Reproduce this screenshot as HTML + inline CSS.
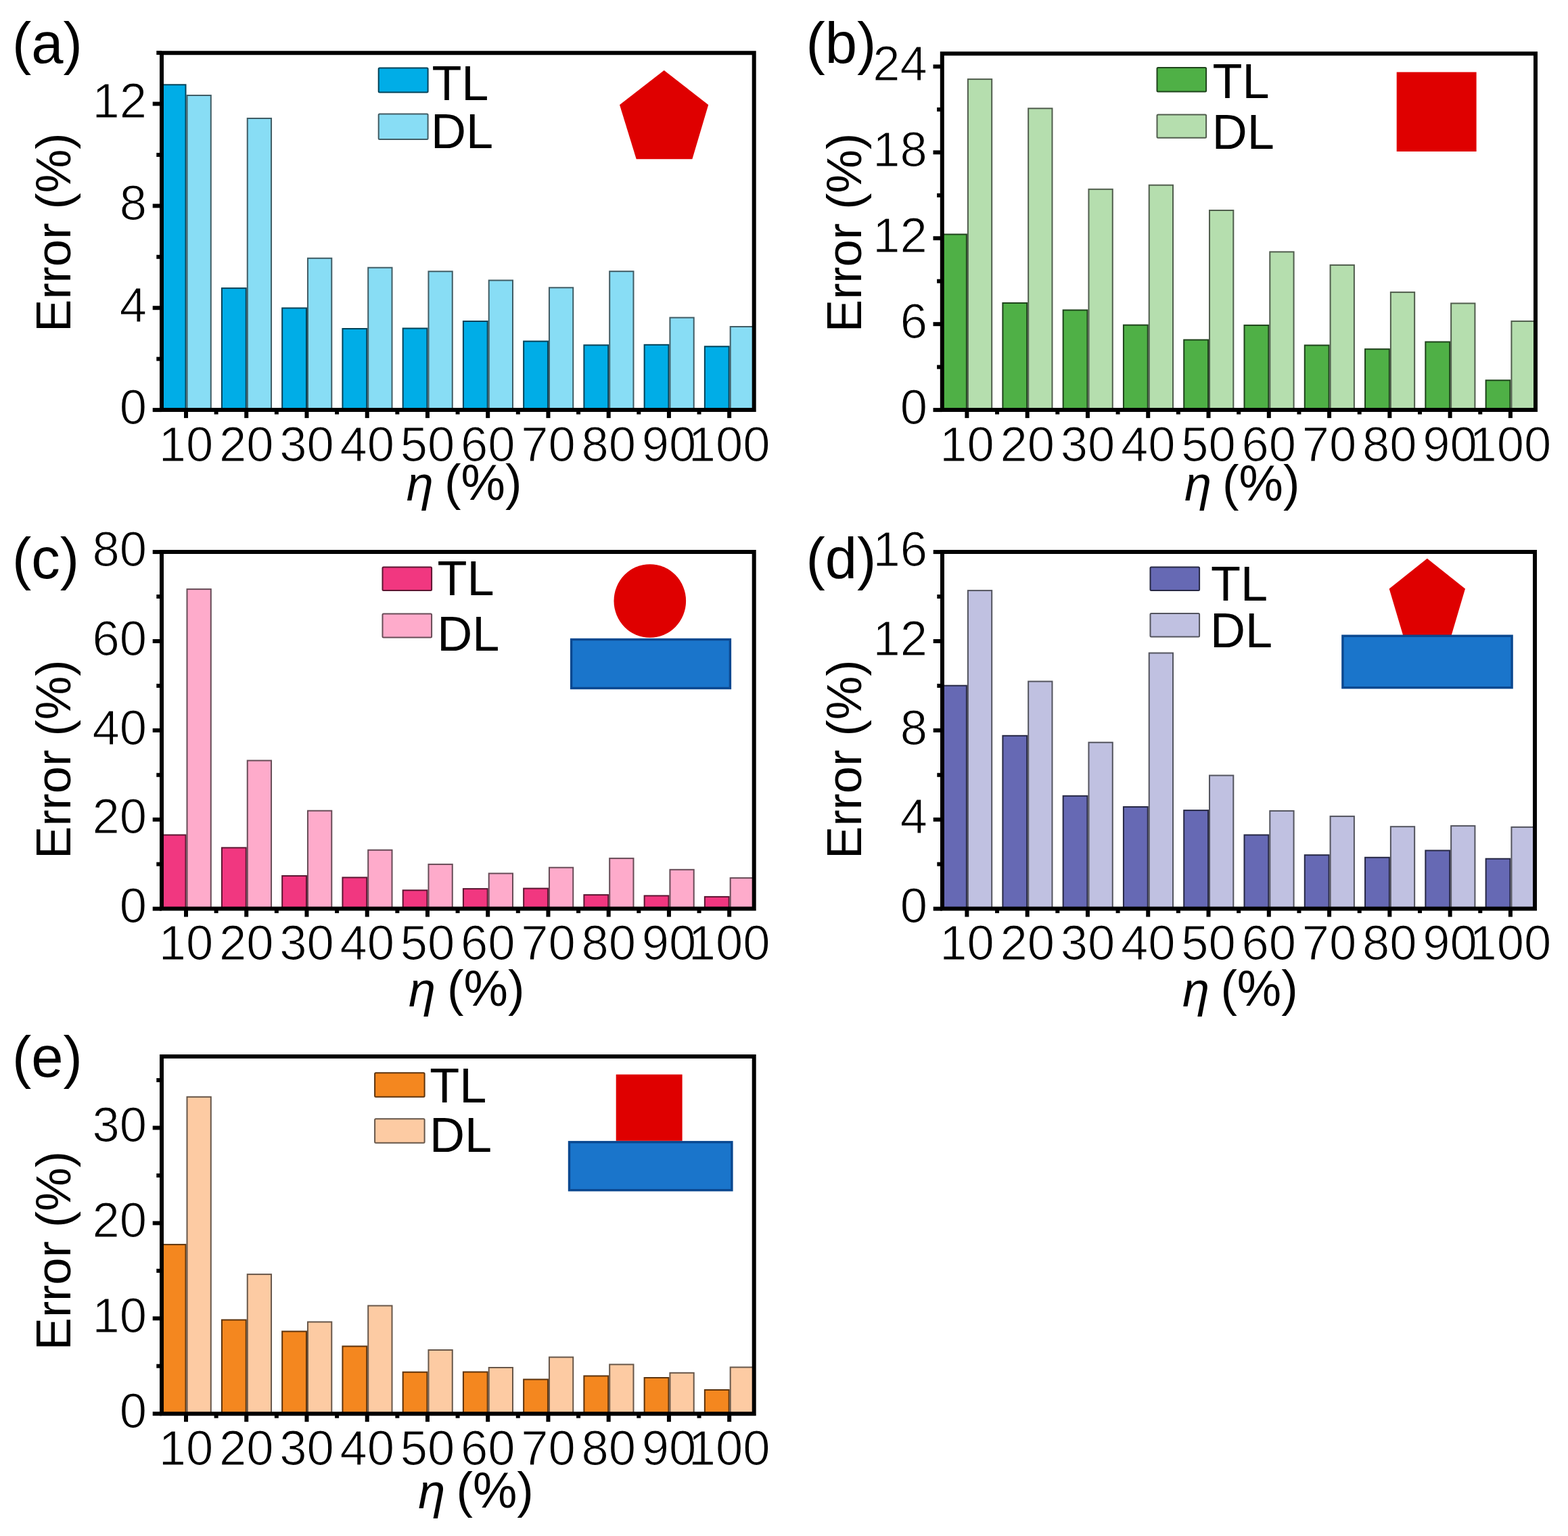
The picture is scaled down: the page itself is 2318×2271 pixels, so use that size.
<!DOCTYPE html>
<html><head><meta charset="utf-8"><title>Error vs eta</title>
<style>
html,body{margin:0;padding:0;background:#fff;}
svg{display:block;}
text{font-family:"Liberation Sans", Arial, sans-serif;fill:#000;}
.tk{stroke:#fff;stroke-width:1.2px;}
</style></head>
<body>
<svg width="2318" height="2271" viewBox="0 0 2318 2271">
<rect x="0" y="0" width="2318" height="2271" fill="#fff"/>
<rect x="239" y="125.3" width="35.5" height="480.8" fill="#00ADE7" stroke="#004258" stroke-width="2"/>
<rect x="276.5" y="141" width="35.3" height="465.1" fill="#88DDF5" stroke="#415C64" stroke-width="2"/>
<rect x="327.94" y="426.1" width="35.8" height="180" fill="#00ADE7" stroke="#004258" stroke-width="2"/>
<rect x="365.74" y="175" width="35.3" height="431.1" fill="#88DDF5" stroke="#415C64" stroke-width="2"/>
<rect x="417.18" y="455.5" width="35.8" height="150.6" fill="#00ADE7" stroke="#004258" stroke-width="2"/>
<rect x="454.98" y="381.8" width="35.3" height="224.3" fill="#88DDF5" stroke="#415C64" stroke-width="2"/>
<rect x="506.42" y="486" width="35.8" height="120.1" fill="#00ADE7" stroke="#004258" stroke-width="2"/>
<rect x="544.22" y="395.7" width="35.3" height="210.4" fill="#88DDF5" stroke="#415C64" stroke-width="2"/>
<rect x="595.66" y="485.5" width="35.8" height="120.6" fill="#00ADE7" stroke="#004258" stroke-width="2"/>
<rect x="633.46" y="401.3" width="35.3" height="204.8" fill="#88DDF5" stroke="#415C64" stroke-width="2"/>
<rect x="684.9" y="475" width="35.8" height="131.1" fill="#00ADE7" stroke="#004258" stroke-width="2"/>
<rect x="722.7" y="414.5" width="35.3" height="191.6" fill="#88DDF5" stroke="#415C64" stroke-width="2"/>
<rect x="774.14" y="504.6" width="35.8" height="101.5" fill="#00ADE7" stroke="#004258" stroke-width="2"/>
<rect x="811.94" y="425.3" width="35.3" height="180.8" fill="#88DDF5" stroke="#415C64" stroke-width="2"/>
<rect x="863.38" y="510.3" width="35.8" height="95.8" fill="#00ADE7" stroke="#004258" stroke-width="2"/>
<rect x="901.18" y="401.2" width="35.3" height="204.9" fill="#88DDF5" stroke="#415C64" stroke-width="2"/>
<rect x="952.62" y="509.8" width="35.8" height="96.3" fill="#00ADE7" stroke="#004258" stroke-width="2"/>
<rect x="990.42" y="469.6" width="35.3" height="136.5" fill="#88DDF5" stroke="#415C64" stroke-width="2"/>
<rect x="1041.86" y="512.3" width="35.8" height="93.8" fill="#00ADE7" stroke="#004258" stroke-width="2"/>
<rect x="1079.66" y="483" width="35.04" height="123.1" fill="#88DDF5" stroke="#415C64" stroke-width="2"/>
<polygon points="981.7,104 1047.2,155 1023.4,235.3 940.7,235.3 916,155" fill="#DF0000"/>
<rect x="559.7" y="100.5" width="72.9" height="36" rx="1.5" fill="#00ADE7" stroke="#004258" stroke-width="2"/>
<rect x="559.7" y="168.6" width="72.9" height="37.4" rx="1.5" fill="#88DDF5" stroke="#415C64" stroke-width="2"/>
<text x="638.4" y="147.7" font-size="72">TL</text>
<text x="637.1" y="218.6" font-size="72">DL</text>
<path d="M239 78.2H1114.7V606.1H239Z" fill="none" stroke="#000" stroke-width="6" stroke-linejoin="miter"/>
<line x1="225.7" y1="606.1" x2="239" y2="606.1" stroke="#000" stroke-width="6"/>
<text class="tk" x="217.1" y="626.8" font-size="72.4" text-anchor="end">0</text>
<line x1="225.7" y1="455.23" x2="239" y2="455.23" stroke="#000" stroke-width="6"/>
<text class="tk" x="217.1" y="475.93" font-size="72.4" text-anchor="end">4</text>
<line x1="225.7" y1="304.37" x2="239" y2="304.37" stroke="#000" stroke-width="6"/>
<text class="tk" x="217.1" y="325.07" font-size="72.4" text-anchor="end">8</text>
<line x1="225.7" y1="153.5" x2="239" y2="153.5" stroke="#000" stroke-width="6"/>
<text class="tk" x="217.1" y="174.2" font-size="72.4" text-anchor="end">12</text>
<line x1="231.3" y1="530.67" x2="239" y2="530.67" stroke="#000" stroke-width="6"/>
<line x1="231.3" y1="379.8" x2="239" y2="379.8" stroke="#000" stroke-width="6"/>
<line x1="231.3" y1="228.93" x2="239" y2="228.93" stroke="#000" stroke-width="6"/>
<line x1="231.3" y1="78.07" x2="239" y2="78.07" stroke="#000" stroke-width="6"/>
<line x1="275" y1="606.1" x2="275" y2="618.1" stroke="#000" stroke-width="6"/>
<text class="tk" x="275" y="681.7" font-size="72.4" text-anchor="middle">10</text>
<line x1="319.62" y1="606.1" x2="319.62" y2="612.6" stroke="#000" stroke-width="6"/>
<line x1="364.24" y1="606.1" x2="364.24" y2="618.1" stroke="#000" stroke-width="6"/>
<text class="tk" x="364.24" y="681.7" font-size="72.4" text-anchor="middle">20</text>
<line x1="408.86" y1="606.1" x2="408.86" y2="612.6" stroke="#000" stroke-width="6"/>
<line x1="453.48" y1="606.1" x2="453.48" y2="618.1" stroke="#000" stroke-width="6"/>
<text class="tk" x="453.48" y="681.7" font-size="72.4" text-anchor="middle">30</text>
<line x1="498.1" y1="606.1" x2="498.1" y2="612.6" stroke="#000" stroke-width="6"/>
<line x1="542.72" y1="606.1" x2="542.72" y2="618.1" stroke="#000" stroke-width="6"/>
<text class="tk" x="542.72" y="681.7" font-size="72.4" text-anchor="middle">40</text>
<line x1="587.34" y1="606.1" x2="587.34" y2="612.6" stroke="#000" stroke-width="6"/>
<line x1="631.96" y1="606.1" x2="631.96" y2="618.1" stroke="#000" stroke-width="6"/>
<text class="tk" x="631.96" y="681.7" font-size="72.4" text-anchor="middle">50</text>
<line x1="676.58" y1="606.1" x2="676.58" y2="612.6" stroke="#000" stroke-width="6"/>
<line x1="721.2" y1="606.1" x2="721.2" y2="618.1" stroke="#000" stroke-width="6"/>
<text class="tk" x="721.2" y="681.7" font-size="72.4" text-anchor="middle">60</text>
<line x1="765.82" y1="606.1" x2="765.82" y2="612.6" stroke="#000" stroke-width="6"/>
<line x1="810.44" y1="606.1" x2="810.44" y2="618.1" stroke="#000" stroke-width="6"/>
<text class="tk" x="810.44" y="681.7" font-size="72.4" text-anchor="middle">70</text>
<line x1="855.06" y1="606.1" x2="855.06" y2="612.6" stroke="#000" stroke-width="6"/>
<line x1="899.68" y1="606.1" x2="899.68" y2="618.1" stroke="#000" stroke-width="6"/>
<text class="tk" x="899.68" y="681.7" font-size="72.4" text-anchor="middle">80</text>
<line x1="944.3" y1="606.1" x2="944.3" y2="612.6" stroke="#000" stroke-width="6"/>
<line x1="988.92" y1="606.1" x2="988.92" y2="618.1" stroke="#000" stroke-width="6"/>
<text class="tk" x="988.92" y="681.7" font-size="72.4" text-anchor="middle">90</text>
<line x1="1033.54" y1="606.1" x2="1033.54" y2="612.6" stroke="#000" stroke-width="6"/>
<line x1="1078.16" y1="606.1" x2="1078.16" y2="618.1" stroke="#000" stroke-width="6"/>
<text class="tk" x="1078.16" y="681.7" font-size="72.4" text-anchor="middle">100</text>
<text transform="translate(104 343.8) rotate(-90)" font-size="72.6" text-anchor="middle">Error (%)</text>
<text x="600.7" y="739.9" font-size="72" font-style="italic">η</text>
<text x="771.4" y="739.3" font-size="73.5" text-anchor="end">(%)</text>
<text x="18" y="93" font-size="85">(a)</text>
<rect x="1393.1" y="346.5" width="35.8" height="259.6" fill="#4FB046" stroke="#1E431B" stroke-width="2"/>
<rect x="1430.9" y="117.1" width="35.3" height="489" fill="#B5DEAE" stroke="#505D4D" stroke-width="2"/>
<rect x="1482.38" y="448" width="35.8" height="158.1" fill="#4FB046" stroke="#1E431B" stroke-width="2"/>
<rect x="1520.18" y="160.3" width="35.3" height="445.8" fill="#B5DEAE" stroke="#505D4D" stroke-width="2"/>
<rect x="1571.66" y="458.5" width="35.8" height="147.6" fill="#4FB046" stroke="#1E431B" stroke-width="2"/>
<rect x="1609.46" y="279.8" width="35.3" height="326.3" fill="#B5DEAE" stroke="#505D4D" stroke-width="2"/>
<rect x="1660.94" y="480.6" width="35.8" height="125.5" fill="#4FB046" stroke="#1E431B" stroke-width="2"/>
<rect x="1698.74" y="273.7" width="35.3" height="332.4" fill="#B5DEAE" stroke="#505D4D" stroke-width="2"/>
<rect x="1750.22" y="502.5" width="35.8" height="103.6" fill="#4FB046" stroke="#1E431B" stroke-width="2"/>
<rect x="1788.02" y="311" width="35.3" height="295.1" fill="#B5DEAE" stroke="#505D4D" stroke-width="2"/>
<rect x="1839.5" y="480.9" width="35.8" height="125.2" fill="#4FB046" stroke="#1E431B" stroke-width="2"/>
<rect x="1877.3" y="372.4" width="35.3" height="233.7" fill="#B5DEAE" stroke="#505D4D" stroke-width="2"/>
<rect x="1928.78" y="510.5" width="35.8" height="95.6" fill="#4FB046" stroke="#1E431B" stroke-width="2"/>
<rect x="1966.58" y="391.9" width="35.3" height="214.2" fill="#B5DEAE" stroke="#505D4D" stroke-width="2"/>
<rect x="2018.06" y="516.2" width="35.8" height="89.9" fill="#4FB046" stroke="#1E431B" stroke-width="2"/>
<rect x="2055.86" y="432.1" width="35.3" height="174" fill="#B5DEAE" stroke="#505D4D" stroke-width="2"/>
<rect x="2107.34" y="505.5" width="35.8" height="100.6" fill="#4FB046" stroke="#1E431B" stroke-width="2"/>
<rect x="2145.14" y="448.5" width="35.3" height="157.6" fill="#B5DEAE" stroke="#505D4D" stroke-width="2"/>
<rect x="2196.62" y="562.3" width="35.8" height="43.8" fill="#4FB046" stroke="#1E431B" stroke-width="2"/>
<rect x="2234.42" y="474.9" width="35.3" height="131.2" fill="#B5DEAE" stroke="#505D4D" stroke-width="2"/>
<rect x="2064.7" y="106.6" width="117.9" height="117.4" fill="#DF0000"/>
<rect x="1710.5" y="100" width="72.6" height="35.6" rx="1.5" fill="#4FB046" stroke="#1E431B" stroke-width="2"/>
<rect x="1710.5" y="169.6" width="72.6" height="34.1" rx="1.5" fill="#B5DEAE" stroke="#505D4D" stroke-width="2"/>
<text x="1792.6" y="144.9" font-size="72">TL</text>
<text x="1791.7" y="220" font-size="72">DL</text>
<path d="M1392.8 79.2H2270V606.1H1392.8Z" fill="none" stroke="#000" stroke-width="6" stroke-linejoin="miter"/>
<line x1="1379.5" y1="606.1" x2="1392.8" y2="606.1" stroke="#000" stroke-width="6"/>
<text class="tk" x="1370.9" y="626.8" font-size="72.4" text-anchor="end">0</text>
<line x1="1379.5" y1="479.18" x2="1392.8" y2="479.18" stroke="#000" stroke-width="6"/>
<text class="tk" x="1370.9" y="499.88" font-size="72.4" text-anchor="end">6</text>
<line x1="1379.5" y1="352.25" x2="1392.8" y2="352.25" stroke="#000" stroke-width="6"/>
<text class="tk" x="1370.9" y="372.95" font-size="72.4" text-anchor="end">12</text>
<line x1="1379.5" y1="225.32" x2="1392.8" y2="225.32" stroke="#000" stroke-width="6"/>
<text class="tk" x="1370.9" y="246.02" font-size="72.4" text-anchor="end">18</text>
<line x1="1379.5" y1="98.4" x2="1392.8" y2="98.4" stroke="#000" stroke-width="6"/>
<text class="tk" x="1370.9" y="119.1" font-size="72.4" text-anchor="end">24</text>
<line x1="1385.1" y1="542.64" x2="1392.8" y2="542.64" stroke="#000" stroke-width="6"/>
<line x1="1385.1" y1="415.71" x2="1392.8" y2="415.71" stroke="#000" stroke-width="6"/>
<line x1="1385.1" y1="288.79" x2="1392.8" y2="288.79" stroke="#000" stroke-width="6"/>
<line x1="1385.1" y1="161.86" x2="1392.8" y2="161.86" stroke="#000" stroke-width="6"/>
<line x1="1429.4" y1="606.1" x2="1429.4" y2="618.1" stroke="#000" stroke-width="6"/>
<text class="tk" x="1429.4" y="681.7" font-size="72.4" text-anchor="middle">10</text>
<line x1="1474.04" y1="606.1" x2="1474.04" y2="612.6" stroke="#000" stroke-width="6"/>
<line x1="1518.68" y1="606.1" x2="1518.68" y2="618.1" stroke="#000" stroke-width="6"/>
<text class="tk" x="1518.68" y="681.7" font-size="72.4" text-anchor="middle">20</text>
<line x1="1563.32" y1="606.1" x2="1563.32" y2="612.6" stroke="#000" stroke-width="6"/>
<line x1="1607.96" y1="606.1" x2="1607.96" y2="618.1" stroke="#000" stroke-width="6"/>
<text class="tk" x="1607.96" y="681.7" font-size="72.4" text-anchor="middle">30</text>
<line x1="1652.6" y1="606.1" x2="1652.6" y2="612.6" stroke="#000" stroke-width="6"/>
<line x1="1697.24" y1="606.1" x2="1697.24" y2="618.1" stroke="#000" stroke-width="6"/>
<text class="tk" x="1697.24" y="681.7" font-size="72.4" text-anchor="middle">40</text>
<line x1="1741.88" y1="606.1" x2="1741.88" y2="612.6" stroke="#000" stroke-width="6"/>
<line x1="1786.52" y1="606.1" x2="1786.52" y2="618.1" stroke="#000" stroke-width="6"/>
<text class="tk" x="1786.52" y="681.7" font-size="72.4" text-anchor="middle">50</text>
<line x1="1831.16" y1="606.1" x2="1831.16" y2="612.6" stroke="#000" stroke-width="6"/>
<line x1="1875.8" y1="606.1" x2="1875.8" y2="618.1" stroke="#000" stroke-width="6"/>
<text class="tk" x="1875.8" y="681.7" font-size="72.4" text-anchor="middle">60</text>
<line x1="1920.44" y1="606.1" x2="1920.44" y2="612.6" stroke="#000" stroke-width="6"/>
<line x1="1965.08" y1="606.1" x2="1965.08" y2="618.1" stroke="#000" stroke-width="6"/>
<text class="tk" x="1965.08" y="681.7" font-size="72.4" text-anchor="middle">70</text>
<line x1="2009.72" y1="606.1" x2="2009.72" y2="612.6" stroke="#000" stroke-width="6"/>
<line x1="2054.36" y1="606.1" x2="2054.36" y2="618.1" stroke="#000" stroke-width="6"/>
<text class="tk" x="2054.36" y="681.7" font-size="72.4" text-anchor="middle">80</text>
<line x1="2099" y1="606.1" x2="2099" y2="612.6" stroke="#000" stroke-width="6"/>
<line x1="2143.64" y1="606.1" x2="2143.64" y2="618.1" stroke="#000" stroke-width="6"/>
<text class="tk" x="2143.64" y="681.7" font-size="72.4" text-anchor="middle">90</text>
<line x1="2188.28" y1="606.1" x2="2188.28" y2="612.6" stroke="#000" stroke-width="6"/>
<line x1="2232.92" y1="606.1" x2="2232.92" y2="618.1" stroke="#000" stroke-width="6"/>
<text class="tk" x="2232.92" y="681.7" font-size="72.4" text-anchor="middle">100</text>
<text transform="translate(1273.4 344.1) rotate(-90)" font-size="72.6" text-anchor="middle">Error (%)</text>
<text x="1751" y="740.3" font-size="72" font-style="italic">η</text>
<text x="1921.4" y="739.7" font-size="73.5" text-anchor="end">(%)</text>
<text x="1191.5" y="93" font-size="85">(b)</text>
<rect x="239" y="1234.5" width="35.5" height="109.1" fill="#F13780" stroke="#5C1531" stroke-width="2"/>
<rect x="276.5" y="871.1" width="35.3" height="472.5" fill="#FEABCB" stroke="#674C57" stroke-width="2"/>
<rect x="327.94" y="1253.4" width="35.8" height="90.2" fill="#F13780" stroke="#5C1531" stroke-width="2"/>
<rect x="365.74" y="1124.5" width="35.3" height="219.1" fill="#FEABCB" stroke="#674C57" stroke-width="2"/>
<rect x="417.18" y="1295" width="35.8" height="48.6" fill="#F13780" stroke="#5C1531" stroke-width="2"/>
<rect x="454.98" y="1198.7" width="35.3" height="144.9" fill="#FEABCB" stroke="#674C57" stroke-width="2"/>
<rect x="506.42" y="1297.4" width="35.8" height="46.2" fill="#F13780" stroke="#5C1531" stroke-width="2"/>
<rect x="544.22" y="1256.8" width="35.3" height="86.8" fill="#FEABCB" stroke="#674C57" stroke-width="2"/>
<rect x="595.66" y="1316.3" width="35.8" height="27.3" fill="#F13780" stroke="#5C1531" stroke-width="2"/>
<rect x="633.46" y="1277.9" width="35.3" height="65.7" fill="#FEABCB" stroke="#674C57" stroke-width="2"/>
<rect x="684.9" y="1314.1" width="35.8" height="29.5" fill="#F13780" stroke="#5C1531" stroke-width="2"/>
<rect x="722.7" y="1291.4" width="35.3" height="52.2" fill="#FEABCB" stroke="#674C57" stroke-width="2"/>
<rect x="774.14" y="1313.6" width="35.8" height="30" fill="#F13780" stroke="#5C1531" stroke-width="2"/>
<rect x="811.94" y="1282.7" width="35.3" height="60.9" fill="#FEABCB" stroke="#674C57" stroke-width="2"/>
<rect x="863.38" y="1323.1" width="35.8" height="20.5" fill="#F13780" stroke="#5C1531" stroke-width="2"/>
<rect x="901.18" y="1269.1" width="35.3" height="74.5" fill="#FEABCB" stroke="#674C57" stroke-width="2"/>
<rect x="952.62" y="1324.4" width="35.8" height="19.2" fill="#F13780" stroke="#5C1531" stroke-width="2"/>
<rect x="990.42" y="1285.8" width="35.3" height="57.8" fill="#FEABCB" stroke="#674C57" stroke-width="2"/>
<rect x="1041.86" y="1325.9" width="35.8" height="17.7" fill="#F13780" stroke="#5C1531" stroke-width="2"/>
<rect x="1079.66" y="1298.1" width="35.04" height="45.5" fill="#FEABCB" stroke="#674C57" stroke-width="2"/>
<ellipse cx="960.8" cy="888.5" rx="53.3" ry="54.3" fill="#DF0000"/>
<rect x="844.6" y="945.5" width="234.8" height="72" fill="#1A75CB" stroke="#0A4890" stroke-width="3.4"/>
<rect x="565.5" y="838.4" width="72.6" height="34.6" rx="1.5" fill="#F13780" stroke="#5C1531" stroke-width="2"/>
<rect x="565.5" y="907.4" width="72.6" height="35.1" rx="1.5" fill="#FEABCB" stroke="#674C57" stroke-width="2"/>
<text x="646.6" y="879.5" font-size="72">TL</text>
<text x="646.2" y="961.6" font-size="72">DL</text>
<path d="M239 816.1H1114.7V1343.6H239Z" fill="none" stroke="#000" stroke-width="6" stroke-linejoin="miter"/>
<line x1="225.7" y1="1343.6" x2="239" y2="1343.6" stroke="#000" stroke-width="6"/>
<text class="tk" x="217.1" y="1364.3" font-size="72.4" text-anchor="end">0</text>
<line x1="225.7" y1="1211.72" x2="239" y2="1211.72" stroke="#000" stroke-width="6"/>
<text class="tk" x="217.1" y="1232.42" font-size="72.4" text-anchor="end">20</text>
<line x1="225.7" y1="1079.85" x2="239" y2="1079.85" stroke="#000" stroke-width="6"/>
<text class="tk" x="217.1" y="1100.55" font-size="72.4" text-anchor="end">40</text>
<line x1="225.7" y1="947.98" x2="239" y2="947.98" stroke="#000" stroke-width="6"/>
<text class="tk" x="217.1" y="968.68" font-size="72.4" text-anchor="end">60</text>
<line x1="225.7" y1="816.1" x2="239" y2="816.1" stroke="#000" stroke-width="6"/>
<text class="tk" x="217.1" y="836.8" font-size="72.4" text-anchor="end">80</text>
<line x1="231.3" y1="1277.66" x2="239" y2="1277.66" stroke="#000" stroke-width="6"/>
<line x1="231.3" y1="1145.79" x2="239" y2="1145.79" stroke="#000" stroke-width="6"/>
<line x1="231.3" y1="1013.91" x2="239" y2="1013.91" stroke="#000" stroke-width="6"/>
<line x1="231.3" y1="882.04" x2="239" y2="882.04" stroke="#000" stroke-width="6"/>
<line x1="275" y1="1343.6" x2="275" y2="1355.6" stroke="#000" stroke-width="6"/>
<text class="tk" x="275" y="1419.2" font-size="72.4" text-anchor="middle">10</text>
<line x1="319.62" y1="1343.6" x2="319.62" y2="1350.1" stroke="#000" stroke-width="6"/>
<line x1="364.24" y1="1343.6" x2="364.24" y2="1355.6" stroke="#000" stroke-width="6"/>
<text class="tk" x="364.24" y="1419.2" font-size="72.4" text-anchor="middle">20</text>
<line x1="408.86" y1="1343.6" x2="408.86" y2="1350.1" stroke="#000" stroke-width="6"/>
<line x1="453.48" y1="1343.6" x2="453.48" y2="1355.6" stroke="#000" stroke-width="6"/>
<text class="tk" x="453.48" y="1419.2" font-size="72.4" text-anchor="middle">30</text>
<line x1="498.1" y1="1343.6" x2="498.1" y2="1350.1" stroke="#000" stroke-width="6"/>
<line x1="542.72" y1="1343.6" x2="542.72" y2="1355.6" stroke="#000" stroke-width="6"/>
<text class="tk" x="542.72" y="1419.2" font-size="72.4" text-anchor="middle">40</text>
<line x1="587.34" y1="1343.6" x2="587.34" y2="1350.1" stroke="#000" stroke-width="6"/>
<line x1="631.96" y1="1343.6" x2="631.96" y2="1355.6" stroke="#000" stroke-width="6"/>
<text class="tk" x="631.96" y="1419.2" font-size="72.4" text-anchor="middle">50</text>
<line x1="676.58" y1="1343.6" x2="676.58" y2="1350.1" stroke="#000" stroke-width="6"/>
<line x1="721.2" y1="1343.6" x2="721.2" y2="1355.6" stroke="#000" stroke-width="6"/>
<text class="tk" x="721.2" y="1419.2" font-size="72.4" text-anchor="middle">60</text>
<line x1="765.82" y1="1343.6" x2="765.82" y2="1350.1" stroke="#000" stroke-width="6"/>
<line x1="810.44" y1="1343.6" x2="810.44" y2="1355.6" stroke="#000" stroke-width="6"/>
<text class="tk" x="810.44" y="1419.2" font-size="72.4" text-anchor="middle">70</text>
<line x1="855.06" y1="1343.6" x2="855.06" y2="1350.1" stroke="#000" stroke-width="6"/>
<line x1="899.68" y1="1343.6" x2="899.68" y2="1355.6" stroke="#000" stroke-width="6"/>
<text class="tk" x="899.68" y="1419.2" font-size="72.4" text-anchor="middle">80</text>
<line x1="944.3" y1="1343.6" x2="944.3" y2="1350.1" stroke="#000" stroke-width="6"/>
<line x1="988.92" y1="1343.6" x2="988.92" y2="1355.6" stroke="#000" stroke-width="6"/>
<text class="tk" x="988.92" y="1419.2" font-size="72.4" text-anchor="middle">90</text>
<line x1="1033.54" y1="1343.6" x2="1033.54" y2="1350.1" stroke="#000" stroke-width="6"/>
<line x1="1078.16" y1="1343.6" x2="1078.16" y2="1355.6" stroke="#000" stroke-width="6"/>
<text class="tk" x="1078.16" y="1419.2" font-size="72.4" text-anchor="middle">100</text>
<text transform="translate(104 1122.8) rotate(-90)" font-size="72.6" text-anchor="middle">Error (%)</text>
<text x="604" y="1488" font-size="72" font-style="italic">η</text>
<text x="775.4" y="1487.4" font-size="73.5" text-anchor="end">(%)</text>
<text x="18" y="855" font-size="85">(c)</text>
<rect x="1393.1" y="1013.7" width="35.8" height="329.9" fill="#6669B4" stroke="#272844" stroke-width="2"/>
<rect x="1430.9" y="873.1" width="35.3" height="470.5" fill="#C0C1E1" stroke="#53545E" stroke-width="2"/>
<rect x="1482.38" y="1087.8" width="35.8" height="255.8" fill="#6669B4" stroke="#272844" stroke-width="2"/>
<rect x="1520.18" y="1007.5" width="35.3" height="336.1" fill="#C0C1E1" stroke="#53545E" stroke-width="2"/>
<rect x="1571.66" y="1176.8" width="35.8" height="166.8" fill="#6669B4" stroke="#272844" stroke-width="2"/>
<rect x="1609.46" y="1097.7" width="35.3" height="245.9" fill="#C0C1E1" stroke="#53545E" stroke-width="2"/>
<rect x="1660.94" y="1193" width="35.8" height="150.6" fill="#6669B4" stroke="#272844" stroke-width="2"/>
<rect x="1698.74" y="965.5" width="35.3" height="378.1" fill="#C0C1E1" stroke="#53545E" stroke-width="2"/>
<rect x="1750.22" y="1198.1" width="35.8" height="145.5" fill="#6669B4" stroke="#272844" stroke-width="2"/>
<rect x="1788.02" y="1146.5" width="35.3" height="197.1" fill="#C0C1E1" stroke="#53545E" stroke-width="2"/>
<rect x="1839.5" y="1234.5" width="35.8" height="109.1" fill="#6669B4" stroke="#272844" stroke-width="2"/>
<rect x="1877.3" y="1198.9" width="35.3" height="144.7" fill="#C0C1E1" stroke="#53545E" stroke-width="2"/>
<rect x="1928.78" y="1264.2" width="35.8" height="79.4" fill="#6669B4" stroke="#272844" stroke-width="2"/>
<rect x="1966.58" y="1206.9" width="35.3" height="136.7" fill="#C0C1E1" stroke="#53545E" stroke-width="2"/>
<rect x="2018.06" y="1267.8" width="35.8" height="75.8" fill="#6669B4" stroke="#272844" stroke-width="2"/>
<rect x="2055.86" y="1222.2" width="35.3" height="121.4" fill="#C0C1E1" stroke="#53545E" stroke-width="2"/>
<rect x="2107.34" y="1257.5" width="35.8" height="86.1" fill="#6669B4" stroke="#272844" stroke-width="2"/>
<rect x="2145.14" y="1221.1" width="35.3" height="122.5" fill="#C0C1E1" stroke="#53545E" stroke-width="2"/>
<rect x="2196.62" y="1269.7" width="35.8" height="73.9" fill="#6669B4" stroke="#272844" stroke-width="2"/>
<rect x="2234.42" y="1222.9" width="34.58" height="120.7" fill="#C0C1E1" stroke="#53545E" stroke-width="2"/>
<polygon points="2109.8,825.8 2166,870.5 2145.3,940.5 2074.5,940.5 2053.7,870.5" fill="#DF0000"/>
<rect x="1984.9" y="940.2" width="250.2" height="76.5" fill="#1A75CB" stroke="#0A4890" stroke-width="3.4"/>
<rect x="1700.5" y="838.4" width="72.6" height="34.6" rx="1.5" fill="#6669B4" stroke="#272844" stroke-width="2"/>
<rect x="1700.5" y="907" width="72.6" height="34.6" rx="1.5" fill="#C0C1E1" stroke="#53545E" stroke-width="2"/>
<text x="1790" y="887.9" font-size="72">TL</text>
<text x="1789.1" y="957.4" font-size="72">DL</text>
<path d="M1393 816.1H2269V1343.6H1393Z" fill="none" stroke="#000" stroke-width="6" stroke-linejoin="miter"/>
<line x1="1379.7" y1="1343.6" x2="1393" y2="1343.6" stroke="#000" stroke-width="6"/>
<text class="tk" x="1371.1" y="1364.3" font-size="72.4" text-anchor="end">0</text>
<line x1="1379.7" y1="1211.72" x2="1393" y2="1211.72" stroke="#000" stroke-width="6"/>
<text class="tk" x="1371.1" y="1232.42" font-size="72.4" text-anchor="end">4</text>
<line x1="1379.7" y1="1079.85" x2="1393" y2="1079.85" stroke="#000" stroke-width="6"/>
<text class="tk" x="1371.1" y="1100.55" font-size="72.4" text-anchor="end">8</text>
<line x1="1379.7" y1="947.98" x2="1393" y2="947.98" stroke="#000" stroke-width="6"/>
<text class="tk" x="1371.1" y="968.68" font-size="72.4" text-anchor="end">12</text>
<line x1="1379.7" y1="816.1" x2="1393" y2="816.1" stroke="#000" stroke-width="6"/>
<text class="tk" x="1371.1" y="836.8" font-size="72.4" text-anchor="end">16</text>
<line x1="1385.3" y1="1277.66" x2="1393" y2="1277.66" stroke="#000" stroke-width="6"/>
<line x1="1385.3" y1="1145.79" x2="1393" y2="1145.79" stroke="#000" stroke-width="6"/>
<line x1="1385.3" y1="1013.91" x2="1393" y2="1013.91" stroke="#000" stroke-width="6"/>
<line x1="1385.3" y1="882.04" x2="1393" y2="882.04" stroke="#000" stroke-width="6"/>
<line x1="1429.4" y1="1343.6" x2="1429.4" y2="1355.6" stroke="#000" stroke-width="6"/>
<text class="tk" x="1429.4" y="1419.2" font-size="72.4" text-anchor="middle">10</text>
<line x1="1474.04" y1="1343.6" x2="1474.04" y2="1350.1" stroke="#000" stroke-width="6"/>
<line x1="1518.68" y1="1343.6" x2="1518.68" y2="1355.6" stroke="#000" stroke-width="6"/>
<text class="tk" x="1518.68" y="1419.2" font-size="72.4" text-anchor="middle">20</text>
<line x1="1563.32" y1="1343.6" x2="1563.32" y2="1350.1" stroke="#000" stroke-width="6"/>
<line x1="1607.96" y1="1343.6" x2="1607.96" y2="1355.6" stroke="#000" stroke-width="6"/>
<text class="tk" x="1607.96" y="1419.2" font-size="72.4" text-anchor="middle">30</text>
<line x1="1652.6" y1="1343.6" x2="1652.6" y2="1350.1" stroke="#000" stroke-width="6"/>
<line x1="1697.24" y1="1343.6" x2="1697.24" y2="1355.6" stroke="#000" stroke-width="6"/>
<text class="tk" x="1697.24" y="1419.2" font-size="72.4" text-anchor="middle">40</text>
<line x1="1741.88" y1="1343.6" x2="1741.88" y2="1350.1" stroke="#000" stroke-width="6"/>
<line x1="1786.52" y1="1343.6" x2="1786.52" y2="1355.6" stroke="#000" stroke-width="6"/>
<text class="tk" x="1786.52" y="1419.2" font-size="72.4" text-anchor="middle">50</text>
<line x1="1831.16" y1="1343.6" x2="1831.16" y2="1350.1" stroke="#000" stroke-width="6"/>
<line x1="1875.8" y1="1343.6" x2="1875.8" y2="1355.6" stroke="#000" stroke-width="6"/>
<text class="tk" x="1875.8" y="1419.2" font-size="72.4" text-anchor="middle">60</text>
<line x1="1920.44" y1="1343.6" x2="1920.44" y2="1350.1" stroke="#000" stroke-width="6"/>
<line x1="1965.08" y1="1343.6" x2="1965.08" y2="1355.6" stroke="#000" stroke-width="6"/>
<text class="tk" x="1965.08" y="1419.2" font-size="72.4" text-anchor="middle">70</text>
<line x1="2009.72" y1="1343.6" x2="2009.72" y2="1350.1" stroke="#000" stroke-width="6"/>
<line x1="2054.36" y1="1343.6" x2="2054.36" y2="1355.6" stroke="#000" stroke-width="6"/>
<text class="tk" x="2054.36" y="1419.2" font-size="72.4" text-anchor="middle">80</text>
<line x1="2099" y1="1343.6" x2="2099" y2="1350.1" stroke="#000" stroke-width="6"/>
<line x1="2143.64" y1="1343.6" x2="2143.64" y2="1355.6" stroke="#000" stroke-width="6"/>
<text class="tk" x="2143.64" y="1419.2" font-size="72.4" text-anchor="middle">90</text>
<line x1="2188.28" y1="1343.6" x2="2188.28" y2="1350.1" stroke="#000" stroke-width="6"/>
<line x1="2232.92" y1="1343.6" x2="2232.92" y2="1355.6" stroke="#000" stroke-width="6"/>
<text class="tk" x="2232.92" y="1419.2" font-size="72.4" text-anchor="middle">100</text>
<text transform="translate(1273.4 1122.8) rotate(-90)" font-size="72.6" text-anchor="middle">Error (%)</text>
<text x="1748" y="1488" font-size="72" font-style="italic">η</text>
<text x="1918.7" y="1487.4" font-size="73.5" text-anchor="end">(%)</text>
<text x="1191.5" y="855" font-size="85">(d)</text>
<rect x="239" y="1840.1" width="35.5" height="250.1" fill="#F4871F" stroke="#5D330C" stroke-width="2"/>
<rect x="276.5" y="1621.8" width="35.3" height="468.4" fill="#FDCBA3" stroke="#67574A" stroke-width="2"/>
<rect x="327.94" y="1951.5" width="35.8" height="138.7" fill="#F4871F" stroke="#5D330C" stroke-width="2"/>
<rect x="365.74" y="1884.1" width="35.3" height="206.1" fill="#FDCBA3" stroke="#67574A" stroke-width="2"/>
<rect x="417.18" y="1968.5" width="35.8" height="121.7" fill="#F4871F" stroke="#5D330C" stroke-width="2"/>
<rect x="454.98" y="1954.5" width="35.3" height="135.7" fill="#FDCBA3" stroke="#67574A" stroke-width="2"/>
<rect x="506.42" y="1990.5" width="35.8" height="99.7" fill="#F4871F" stroke="#5D330C" stroke-width="2"/>
<rect x="544.22" y="1930.5" width="35.3" height="159.7" fill="#FDCBA3" stroke="#67574A" stroke-width="2"/>
<rect x="595.66" y="2028.7" width="35.8" height="61.5" fill="#F4871F" stroke="#5D330C" stroke-width="2"/>
<rect x="633.46" y="1996" width="35.3" height="94.2" fill="#FDCBA3" stroke="#67574A" stroke-width="2"/>
<rect x="684.9" y="2028.5" width="35.8" height="61.7" fill="#F4871F" stroke="#5D330C" stroke-width="2"/>
<rect x="722.7" y="2022" width="35.3" height="68.2" fill="#FDCBA3" stroke="#67574A" stroke-width="2"/>
<rect x="774.14" y="2039.5" width="35.8" height="50.7" fill="#F4871F" stroke="#5D330C" stroke-width="2"/>
<rect x="811.94" y="2006.6" width="35.3" height="83.6" fill="#FDCBA3" stroke="#67574A" stroke-width="2"/>
<rect x="863.38" y="2034.4" width="35.8" height="55.8" fill="#F4871F" stroke="#5D330C" stroke-width="2"/>
<rect x="901.18" y="2017.4" width="35.3" height="72.8" fill="#FDCBA3" stroke="#67574A" stroke-width="2"/>
<rect x="952.62" y="2037" width="35.8" height="53.2" fill="#F4871F" stroke="#5D330C" stroke-width="2"/>
<rect x="990.42" y="2029.8" width="35.3" height="60.4" fill="#FDCBA3" stroke="#67574A" stroke-width="2"/>
<rect x="1041.86" y="2055" width="35.8" height="35.2" fill="#F4871F" stroke="#5D330C" stroke-width="2"/>
<rect x="1079.66" y="2021.5" width="35.04" height="68.7" fill="#FDCBA3" stroke="#67574A" stroke-width="2"/>
<rect x="910.7" y="1588.6" width="97.9" height="98.2" fill="#DF0000"/>
<rect x="841.5" y="1688.6" width="240.4" height="71.1" fill="#1A75CB" stroke="#0A4890" stroke-width="3.4"/>
<rect x="554.1" y="1586.2" width="73.5" height="35.5" rx="1.5" fill="#F4871F" stroke="#5D330C" stroke-width="2"/>
<rect x="554.1" y="1654.3" width="73.5" height="35.5" rx="1.5" fill="#FDCBA3" stroke="#67574A" stroke-width="2"/>
<text x="635.3" y="1630.1" font-size="72">TL</text>
<text x="634.9" y="1702.9" font-size="72">DL</text>
<path d="M239 1562H1114.7V2090.2H239Z" fill="none" stroke="#000" stroke-width="6" stroke-linejoin="miter"/>
<line x1="225.7" y1="2090.2" x2="239" y2="2090.2" stroke="#000" stroke-width="6"/>
<text class="tk" x="217.1" y="2110.9" font-size="72.4" text-anchor="end">0</text>
<line x1="225.7" y1="1949.3" x2="239" y2="1949.3" stroke="#000" stroke-width="6"/>
<text class="tk" x="217.1" y="1970" font-size="72.4" text-anchor="end">10</text>
<line x1="225.7" y1="1808.4" x2="239" y2="1808.4" stroke="#000" stroke-width="6"/>
<text class="tk" x="217.1" y="1829.1" font-size="72.4" text-anchor="end">20</text>
<line x1="225.7" y1="1667.5" x2="239" y2="1667.5" stroke="#000" stroke-width="6"/>
<text class="tk" x="217.1" y="1688.2" font-size="72.4" text-anchor="end">30</text>
<line x1="231.3" y1="2019.75" x2="239" y2="2019.75" stroke="#000" stroke-width="6"/>
<line x1="231.3" y1="1878.85" x2="239" y2="1878.85" stroke="#000" stroke-width="6"/>
<line x1="231.3" y1="1737.95" x2="239" y2="1737.95" stroke="#000" stroke-width="6"/>
<line x1="231.3" y1="1597.05" x2="239" y2="1597.05" stroke="#000" stroke-width="6"/>
<line x1="275" y1="2090.2" x2="275" y2="2102.2" stroke="#000" stroke-width="6"/>
<text class="tk" x="275" y="2165.8" font-size="72.4" text-anchor="middle">10</text>
<line x1="319.62" y1="2090.2" x2="319.62" y2="2096.7" stroke="#000" stroke-width="6"/>
<line x1="364.24" y1="2090.2" x2="364.24" y2="2102.2" stroke="#000" stroke-width="6"/>
<text class="tk" x="364.24" y="2165.8" font-size="72.4" text-anchor="middle">20</text>
<line x1="408.86" y1="2090.2" x2="408.86" y2="2096.7" stroke="#000" stroke-width="6"/>
<line x1="453.48" y1="2090.2" x2="453.48" y2="2102.2" stroke="#000" stroke-width="6"/>
<text class="tk" x="453.48" y="2165.8" font-size="72.4" text-anchor="middle">30</text>
<line x1="498.1" y1="2090.2" x2="498.1" y2="2096.7" stroke="#000" stroke-width="6"/>
<line x1="542.72" y1="2090.2" x2="542.72" y2="2102.2" stroke="#000" stroke-width="6"/>
<text class="tk" x="542.72" y="2165.8" font-size="72.4" text-anchor="middle">40</text>
<line x1="587.34" y1="2090.2" x2="587.34" y2="2096.7" stroke="#000" stroke-width="6"/>
<line x1="631.96" y1="2090.2" x2="631.96" y2="2102.2" stroke="#000" stroke-width="6"/>
<text class="tk" x="631.96" y="2165.8" font-size="72.4" text-anchor="middle">50</text>
<line x1="676.58" y1="2090.2" x2="676.58" y2="2096.7" stroke="#000" stroke-width="6"/>
<line x1="721.2" y1="2090.2" x2="721.2" y2="2102.2" stroke="#000" stroke-width="6"/>
<text class="tk" x="721.2" y="2165.8" font-size="72.4" text-anchor="middle">60</text>
<line x1="765.82" y1="2090.2" x2="765.82" y2="2096.7" stroke="#000" stroke-width="6"/>
<line x1="810.44" y1="2090.2" x2="810.44" y2="2102.2" stroke="#000" stroke-width="6"/>
<text class="tk" x="810.44" y="2165.8" font-size="72.4" text-anchor="middle">70</text>
<line x1="855.06" y1="2090.2" x2="855.06" y2="2096.7" stroke="#000" stroke-width="6"/>
<line x1="899.68" y1="2090.2" x2="899.68" y2="2102.2" stroke="#000" stroke-width="6"/>
<text class="tk" x="899.68" y="2165.8" font-size="72.4" text-anchor="middle">80</text>
<line x1="944.3" y1="2090.2" x2="944.3" y2="2096.7" stroke="#000" stroke-width="6"/>
<line x1="988.92" y1="2090.2" x2="988.92" y2="2102.2" stroke="#000" stroke-width="6"/>
<text class="tk" x="988.92" y="2165.8" font-size="72.4" text-anchor="middle">90</text>
<line x1="1033.54" y1="2090.2" x2="1033.54" y2="2096.7" stroke="#000" stroke-width="6"/>
<line x1="1078.16" y1="2090.2" x2="1078.16" y2="2102.2" stroke="#000" stroke-width="6"/>
<text class="tk" x="1078.16" y="2165.8" font-size="72.4" text-anchor="middle">100</text>
<text transform="translate(104 1849.3) rotate(-90)" font-size="72.6" text-anchor="middle">Error (%)</text>
<text x="618.2" y="2229.7" font-size="72" font-style="italic">η</text>
<text x="788.8" y="2229.1" font-size="73.5" text-anchor="end">(%)</text>
<text x="18" y="1592" font-size="85">(e)</text>
</svg>
</body></html>
